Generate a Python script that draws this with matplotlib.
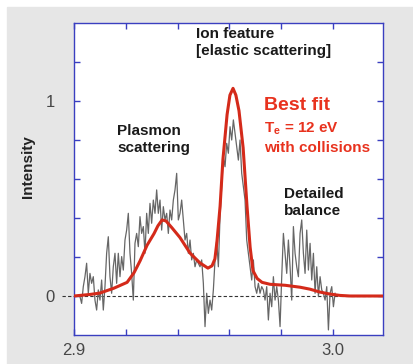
import numpy as np
import matplotlib
matplotlib.use('Agg')
import matplotlib.pyplot as plt
from matplotlib.patches import Rectangle

plt.rcParams['font.family'] = ['Liberation Sans', 'DejaVu Sans']
plt.rcParams['mathtext.fontset'] = 'custom'
plt.rcParams['mathtext.rm'] = 'Liberation Sans:bold'

meas_start = 2.9023
meas_end = 3.0008
meas_intensity = [
    -0.003, -0.038, 0.048, 0.099, 0.168, 0.014, 0.116, 0.065, 0.099, -0.021,
    -0.072, 0.031, -0.021, 0.082, -0.072, 0.048, 0.219, 0.304, 0.099, 0.014,
    0.150, 0.219, 0.065, 0.219, 0.099, 0.202, 0.133, 0.287, 0.338, 0.424,
    0.219, 0.116, -0.021, 0.270, 0.321, 0.253, 0.407, 0.321, 0.356, 0.219,
    0.424, 0.321, 0.475, 0.373, 0.492, 0.424, 0.544, 0.424, 0.492, 0.338,
    0.458, 0.390, 0.424, 0.321, 0.441, 0.390, 0.492, 0.544, 0.629, 0.390,
    0.424, 0.492, 0.390, 0.287, 0.321, 0.219, 0.287, 0.185, 0.219, 0.150,
    0.185, 0.168, 0.150, 0.185, 0.065, -0.157, 0.014, -0.089, -0.021, -0.072,
    0.031, 0.185, 0.287, 0.150, 0.407, 0.561, 0.715, 0.663, 0.783, 0.732,
    0.868, 0.800, 0.903, 0.834, 0.766, 0.697, 0.800, 0.629, 0.561, 0.492,
    0.287, 0.219, 0.150, 0.082, 0.185, 0.048, 0.014, 0.065, 0.014, 0.048,
    0.031, -0.021, 0.048, -0.123, 0.014, -0.055, 0.099, -0.021, 0.048, -0.021,
    -0.157, 0.099, 0.321, 0.219, 0.116, 0.287, 0.150, -0.021, 0.356, 0.219,
    0.150, 0.099, 0.321, 0.390, 0.219, 0.116, 0.338, 0.133, 0.270, 0.082,
    0.219, 0.014, 0.150, -0.003, 0.099, 0.031, 0.014, -0.021, 0.048, -0.174,
    0.014, 0.048, -0.055, 0.014,
]

# best fit curve (red)
fit_x = [2.9000, 2.9062, 2.9100, 2.9154, 2.9205, 2.9232, 2.9255, 2.9282,
         2.9309, 2.9324, 2.9340, 2.9355, 2.9378, 2.9409, 2.9448, 2.9486,
         2.9517, 2.9533, 2.9544, 2.9552, 2.9564, 2.9575, 2.9591, 2.9602,
         2.9614, 2.9625, 2.9637, 2.9653, 2.9668, 2.9680, 2.9691, 2.9707,
         2.9726, 2.9757, 2.9815, 2.9873, 2.9911, 2.9950, 2.9988, 3.0027,
         3.0066, 3.0193]
fit_y = [0.0, 0.008, 0.015, 0.04, 0.07, 0.12, 0.18, 0.26,
         0.32, 0.36, 0.39, 0.385, 0.35, 0.30, 0.22, 0.17,
         0.143, 0.155, 0.19, 0.28, 0.46, 0.70, 0.93, 1.03,
         1.065, 1.03, 0.95, 0.76, 0.46, 0.25, 0.13, 0.09,
         0.07, 0.06, 0.055, 0.045, 0.035, 0.02, 0.01, 0.003,
         0.0, 0.0]

xticks = [2.90, 2.92, 2.94, 2.96, 2.98, 3.00]
xticklabels = ['2.9', '', '', '', '', '3.0']
yticks = [0.0, 0.2, 0.4, 0.6, 0.8, 1.0, 1.2]
yticklabels = ['0', '', '', '', '', '1', '']

W, H = 413, 364
fig = plt.figure(figsize=(W / 100, H / 100), dpi=100, facecolor='white')
fig.patches.append(Rectangle((7 / W, 0), 1 - 7 / W, 1 - 7 / H,
                             transform=fig.transFigure, color='#e6e6e6', zorder=-5))
ax = fig.add_axes([74 / W, 1 - 335 / H, 309 / W, 312 / H])
ax.set_zorder(1)

meas_x = np.linspace(meas_start, meas_end, len(meas_intensity))
ax.axhline(0, xmin=-12 / 309, xmax=1, color='#333333', lw=0.8,
           dashes=(3, 2), clip_on=False, zorder=1)
ax.plot(meas_x, meas_intensity, color='#666666', lw=0.9, zorder=2)
ax.plot(fit_x, fit_y, color='#d42a1a', lw=2.2, zorder=3,
        solid_joinstyle='round')

ax.set_xlim(2.9, 3.0193)
ax.set_ylim(-0.2, 1.4)
blue = '#3a3fc0'
for s in ax.spines.values():
    s.set_color(blue)
    s.set_linewidth(1.0)
ax.set_xticks(xticks)
ax.set_xticklabels(xticklabels)
ax.set_yticks(yticks)
ax.set_yticklabels(yticklabels)
ax.tick_params(direction='in', length=4, width=1, color=blue, top=True, right=True,
               labelsize=12, labelcolor='#474747')
ax.tick_params(axis='y', pad=14)
ax.tick_params(axis='x', pad=6)

fig.text(28 / W, 1 - 167 / H, 'Intensity', rotation=90, fontsize=11,
         fontweight='bold', ha='center', va='center', color='#222222')

tkw = dict(fontsize=11, fontweight='bold', color='#1a1a1a', linespacing=1.3,
           transform=fig.transFigure, va='top', ha='left', zorder=5)
fig.text(196 / W, 1 - 27 / H, 'Ion feature\n[elastic scattering]', **tkw)
fig.text(117 / W, 1 - 124 / H, 'Plasmon\nscattering', **tkw)
fig.text(284 / W, 1 - 187 / H, 'Detailed\nbalance', **tkw)

red = '#e8321e'
fig.text(264 / W, 1 - 106 / H, 'Best fit', fontsize=14, fontweight='bold',
         color=red, va='center', ha='left', zorder=5)
fig.text(264 / W, 1 - 129 / H, r'T$_\mathrm{e}$ = 12 eV', fontsize=11,
         fontweight='bold', color=red, va='center', ha='left', zorder=5)
fig.text(264 / W, 1 - 148 / H, 'with collisions', fontsize=11,
         fontweight='bold', color=red, va='center', ha='left', zorder=5)

fig.savefig('out.png', dpi=100, facecolor=fig.get_facecolor())
